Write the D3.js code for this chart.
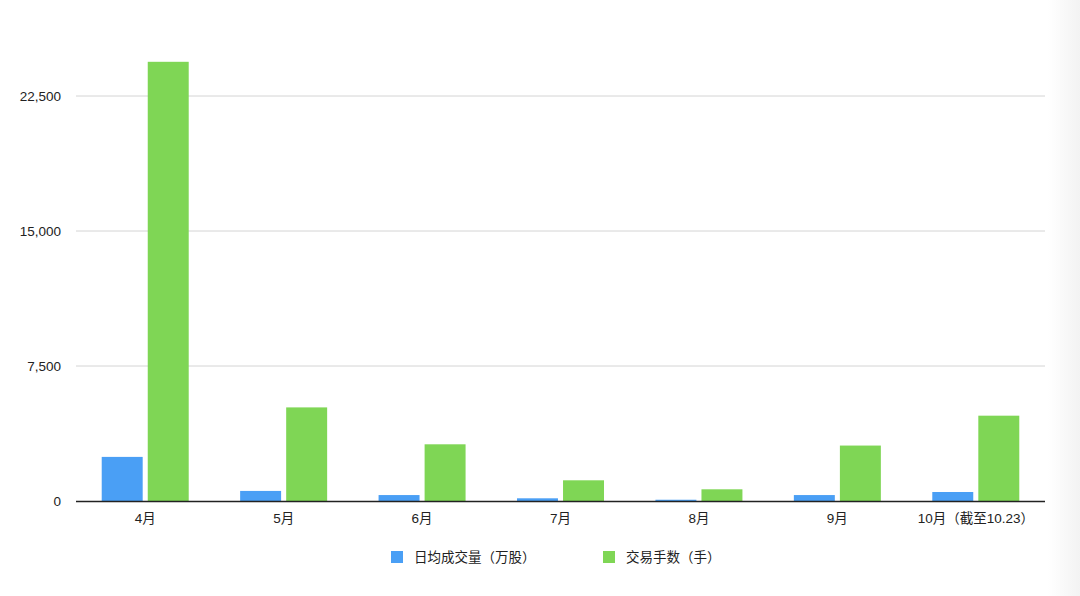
<!DOCTYPE html>
<html><head><meta charset="utf-8">
<script src="https://cdn.jsdelivr.net/npm/d3@7"></script>
<style>
html,body{margin:0;padding:0;background:#fff;}
svg{display:block;font-family:"Liberation Sans","Noto Sans CJK SC",sans-serif;}
</style></head>
<body>
<svg id="c" width="1080" height="596"></svg>
<script>
const categories = ["4月","5月","6月","7月","8月","9月","10月（截至10.23）"];
const seriesNames = ["日均成交量（万股）","交易手数（手）"];
const volume = [2450, 560, 330, 150, 70, 330, 500];
const lots = [24400, 5200, 3150, 1150, 650, 3080, 4740];
const yTicks = [0, 7500, 15000, 22500];
const colors = ["#4a9ff5", "#7fd655"];

const svg = d3.select("#c");
const grad = svg.append("defs").append("linearGradient").attr("id","g").attr("x1","0").attr("x2","1");
grad.append("stop").attr("offset","0").attr("stop-color","#ffffff");
grad.append("stop").attr("offset","1").attr("stop-color","#f3f3f3");
svg.append("rect").attr("x",1048).attr("y",0).attr("width",32).attr("height",596).attr("fill","url(#g)");

const x0 = 76, x1 = 1045;
const y = d3.scaleLinear().domain([0, 25000]).range([501, 51]);
const x = d3.scaleBand().domain(categories).range([x0, x1]).paddingInner(0).paddingOuter(0);
const xs = d3.scaleBand().domain([0,1]).range([0, 87]).paddingInner(0.11);

svg.append("g").selectAll("line").data(yTicks.filter(d=>d>0)).join("line")
  .attr("x1", x0).attr("x2", x1).attr("y1", d=>y(d)).attr("y2", d=>y(d))
  .attr("stroke", "#d4d4d4").attr("stroke-width", 1);

svg.append("g").selectAll("text").data(yTicks).join("text")
  .attr("x", 61).attr("y", d=>y(d)).attr("dy","0.35em").attr("text-anchor","end")
  .attr("font-size", 13.5).attr("fill", "#222").text(d=>d3.format(",")(d));

const groups = svg.append("g").selectAll("g").data(categories).join("g")
  .attr("transform", d=>`translate(${x(d)+x.bandwidth()/2-43.5},0)`);
groups.append("rect").attr("x", xs(0)).attr("width", xs.bandwidth())
  .attr("y", (d,i)=>y(volume[i])).attr("height", (d,i)=>y(0)-y(volume[i])).attr("fill", colors[0]);
groups.append("rect").attr("x", xs(1)).attr("width", xs.bandwidth())
  .attr("y", (d,i)=>y(lots[i])).attr("height", (d,i)=>y(0)-y(lots[i])).attr("fill", colors[1]);

svg.append("line").attr("x1", x0).attr("x2", x1).attr("y1", y(0)+0.5).attr("y2", y(0)+0.5)
  .attr("stroke", "#222").attr("stroke-width", 1.5);

svg.append("g").selectAll("text").data(categories).join("text")
  .attr("x", d=>x(d)+x.bandwidth()/2).attr("y", 518).attr("dy","0.35em")
  .attr("text-anchor","middle").attr("font-size", 13.5).attr("fill","#222").text(d=>d);

const legX = [391, 603];
const leg = svg.append("g").selectAll("g").data(seriesNames).join("g")
  .attr("transform", (d,i)=>`translate(${legX[i]},551)`);
leg.append("rect").attr("width", 12).attr("height", 12).attr("fill", (d,i)=>colors[i]);
leg.append("text").attr("x", 23).attr("y", 6).attr("dy","0.35em").attr("font-size", 13.5)
  .attr("fill","#222").text(d=>d);
</script>
</body></html>
